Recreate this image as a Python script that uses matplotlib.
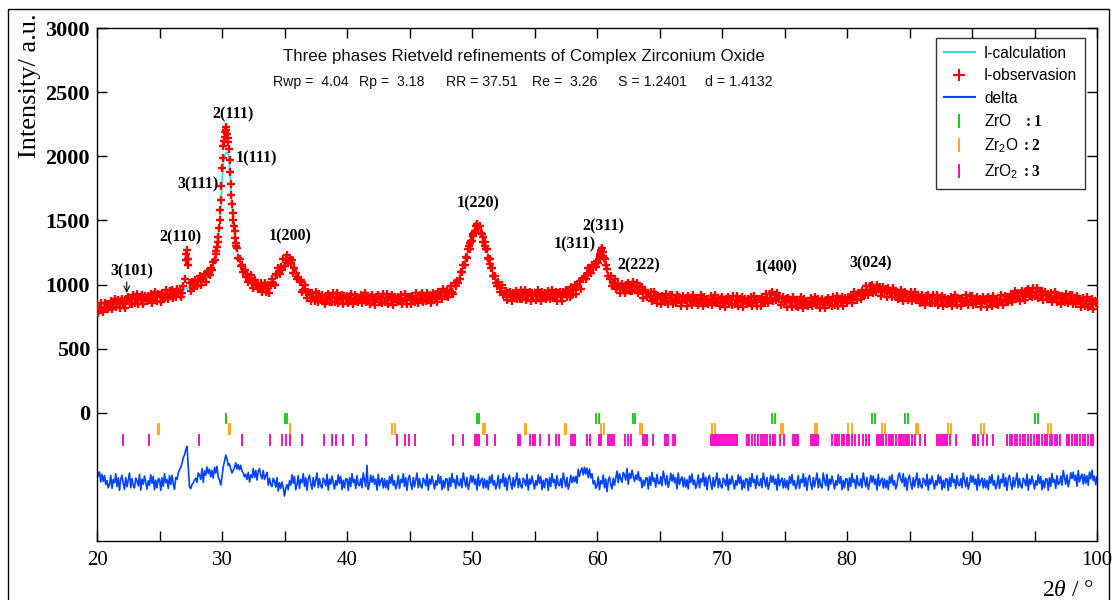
import numpy as np
import matplotlib
matplotlib.use("Agg")
import matplotlib.pyplot as plt
from matplotlib.lines import Line2D
from matplotlib.patches import Rectangle

plt.rcParams['font.family'] = ['Liberation Sans', 'DejaVu Sans']
plt.rcParams['mathtext.fontset'] = 'custom'
plt.rcParams['mathtext.rm'] = 'Liberation Sans'
plt.rcParams['mathtext.bf'] = 'Liberation Serif:bold'
plt.rcParams['mathtext.it'] = 'Liberation Serif:italic'

# ---------------- data ----------------
two_theta_start = 20.0
two_theta_step = 0.1

obs_intensity = [
    830, 777, 820, 857, 805, 782, 855, 822, 845, 807,
    825, 872, 810, 852, 890, 827, 845, 877, 815, 872,
    890, 847, 819, 886, 868, 905, 847, 884, 846, 918,
    855, 891, 923, 849, 901, 882, 919, 845, 912, 893,
    870, 911, 892, 928, 859, 885, 941, 907, 868, 924,
    920, 866, 933, 904, 891, 957, 924, 885, 952, 908,
    960, 893, 936, 904, 967, 935, 960, 900, 935, 985,
    1040, 1190, 1268, 1150, 1010, 950, 1020, 975, 1035, 985,
    985, 1027, 1064, 996, 1053, 1040, 1085, 1020, 1095, 1085,
    1075, 1130, 1110, 1175, 1190, 1235, 1290, 1372, 1505, 1661,
    1911, 2080, 2150, 2230, 2170, 2110, 1973, 1780, 1625, 1505,
    1420, 1326, 1285, 1210, 1200, 1145, 1150, 1095, 1110, 1060,
    1085, 1020, 1050, 1075, 1010, 975, 1038, 995, 1010, 965,
    970, 1012, 944, 980, 1012, 945, 962, 995, 935, 1000,
    1040, 1012, 998, 1080, 1077, 1128, 1085, 1135, 1110, 1195,
    1145, 1190, 1230, 1165, 1205, 1170, 1190, 1090, 1130, 1090,
    1040, 1060, 1020, 1035, 945, 955, 995, 945, 895, 942,
    930, 870, 930, 895, 875, 938, 901, 860, 925, 880,
    920, 875, 845, 910, 890, 925, 865, 900, 860, 930,
    865, 900, 930, 855, 905, 885, 920, 845, 910, 890,
    908, 853, 893, 928, 873, 848, 918, 883, 903, 863,
    877, 922, 857, 897, 932, 867, 882, 912, 847, 902,
    915, 870, 840, 905, 885, 920, 860, 895, 855, 925,
    860, 895, 925, 850, 900, 880, 915, 840, 905, 885,
    860, 900, 880, 915, 845, 870, 925, 890, 850, 905,
    902, 847, 912, 882, 867, 932, 897, 857, 922, 877,
    930, 861, 903, 869, 931, 897, 919, 855, 887, 933,
    905, 928, 866, 944, 912, 935, 888, 966, 939, 907,
    955, 905, 950, 990, 940, 925, 1010, 990, 1030, 1010,
    1045, 1100, 1095, 1155, 1150, 1215, 1210, 1280, 1275, 1340,
    1340, 1395, 1420, 1455, 1470, 1440, 1460, 1400, 1395, 1335,
    1330, 1280, 1275, 1205, 1195, 1130, 1125, 1065, 1070, 1010,
    990, 1020, 940, 970, 995, 920, 927, 951, 881, 933,
    945, 900, 870, 935, 915, 950, 890, 925, 885, 955,
    890, 925, 955, 880, 930, 910, 945, 870, 935, 915,
    935, 880, 920, 955, 900, 875, 945, 910, 930, 890,
    905, 950, 885, 925, 960, 895, 910, 940, 875, 930,
    945, 902, 874, 941, 923, 960, 903, 941, 904, 977,
    915, 958, 996, 929, 987, 977, 1025, 965, 1045, 1040,
    1065, 1040, 1085, 1125, 1100, 1090, 1150, 1135, 1160, 1140,
    1180, 1170, 1225, 1250, 1285, 1220, 1195, 1150, 1120, 1070,
    1040, 1065, 985, 1015, 1040, 968, 977, 1003, 936, 990,
    1005, 960, 930, 995, 975, 1010, 951, 987, 948, 1018,
    955, 985, 1010, 930, 975, 950, 978, 895, 955, 930,
    900, 935, 910, 942, 870, 890, 940, 902, 858, 910,
    903, 847, 911, 880, 864, 928, 892, 851, 915, 870,
    920, 850, 890, 855, 915, 880, 900, 835, 865, 910,
    878, 898, 833, 908, 873, 893, 843, 918, 888, 853,
    895, 840, 880, 915, 860, 835, 905, 870, 890, 850,
    862, 907, 842, 882, 917, 852, 867, 897, 832, 887,
    900, 855, 825, 890, 870, 905, 845, 880, 840, 910,
    845, 880, 910, 835, 885, 865, 900, 825, 890, 870,
    845, 885, 865, 900, 830, 855, 910, 875, 835, 890,
    887, 833, 899, 871, 858, 925, 894, 858, 927, 887,
    940, 875, 915, 880, 935, 895, 910, 840, 865, 906,
    872, 890, 823, 896, 860, 879, 828, 902, 871, 835,
    880, 825, 865, 900, 845, 820, 890, 855, 875, 835,
    850, 895, 830, 870, 905, 840, 855, 885, 820, 875,
    890, 845, 815, 880, 862, 897, 838, 874, 835, 905,
    841, 877, 908, 834, 885, 867, 903, 829, 896, 877,
    855, 899, 883, 922, 856, 885, 944, 913, 877, 936,
    935, 884, 953, 927, 916, 985, 954, 918, 987, 946,
    1000, 932, 974, 940, 1000, 962, 980, 912, 939, 982,
    950, 967, 900, 972, 935, 952, 900, 972, 940, 902,
    945, 888, 926, 959, 902, 875, 943, 906, 924, 882,
    895, 938, 872, 910, 944, 877, 891, 919, 853, 906,
    920, 874, 843, 907, 886, 920, 859, 893, 852, 921,
    855, 890, 919, 844, 893, 873, 907, 832, 896, 876,
    850, 890, 870, 905, 835, 860, 915, 880, 840, 895,
    887, 832, 897, 867, 852, 917, 882, 842, 907, 862,
    910, 840, 880, 845, 905, 870, 890, 825, 855, 900,
    870, 890, 825, 900, 865, 885, 835, 910, 880, 845,
    890, 837, 879, 916, 863, 840, 912, 879, 901, 863,
    880, 928, 866, 909, 947, 885, 903, 936, 874, 932,
    950, 907, 879, 946, 928, 965, 907, 943, 904, 975,
    910, 943, 971, 894, 942, 920, 953, 876, 938, 915,
    887, 925, 903, 936, 864, 887, 940, 903, 861, 914,
    907, 850, 913, 881, 865, 929, 893, 852, 916, 870,
    920, 848, 886, 849, 907, 870, 888, 821, 849, 892,
    836, 870, 899, 823, 872, 851, 885, 810, 875, 855,
    860,
]

# extra observed points measured between the main steps on steep peak flanks
obs_extra_2theta = [27.15, 27.25, 29.55, 29.65, 29.75, 29.85, 29.95, 30.05, 30.15,
                    30.25, 30.35, 30.45, 30.55, 30.65, 30.75, 30.85, 30.95, 31.05,
                    31.15, 49.75, 49.85, 50.05, 50.15, 50.85, 51.05, 51.15, 51.35,
                    51.45, 60.15, 60.25, 60.35, 60.45, 60.55]
obs_extra_intensity = [1240, 1200, 1262, 1330, 1440, 1580, 1770, 1985, 2120,
                       2190, 2205, 2140, 2060, 1880, 1700, 1560, 1455, 1365,
                       1300, 1300, 1325, 1380, 1400, 1370, 1300, 1280, 1200,
                       1160, 1200, 1240, 1270, 1250, 1205]

calc_2theta = [20, 21, 22, 23, 24, 25, 26, 27, 28, 28.5, 29, 29.3, 29.5, 29.6, 29.7,
               29.8, 29.9, 30.0, 30.1, 30.2, 30.3, 30.4, 30.5, 30.6, 30.7, 30.8,
               30.9, 31.0, 31.1, 31.2, 31.4, 31.6, 31.8, 32.0, 32.5, 33.0, 33.4,
               33.8, 34.2, 34.6, 35.0, 35.3, 35.6, 36.0, 36.4, 36.8, 37.2, 37.6,
               38, 40, 42, 44, 46, 47, 48, 48.5, 49, 49.5, 50, 50.3, 50.5, 50.7,
               51, 51.3, 51.6, 52, 52.5, 53, 55, 57, 58, 58.5, 59, 59.5, 60, 60.3,
               60.4, 60.6, 60.8, 61.2, 61.6, 62, 63, 63.5, 64, 65, 67, 70, 72,
               73.5, 74.2, 75, 76, 78, 80, 81, 82, 82.5, 83, 84, 85, 86, 88, 90,
               92, 93.5, 95, 96, 98, 100]
calc_intensity = [812, 838, 862, 882, 898, 908, 920, 960, 1010, 1040, 1090, 1160, 1220,
                  1280, 1360, 1460, 1590, 1800, 1940, 2000, 2025, 2030, 2015, 1930,
                  1760, 1620, 1500, 1410, 1330, 1270, 1195, 1135, 1095, 1065, 1015,
                  980, 967, 985, 1043, 1110, 1170, 1195, 1160, 1065, 985, 940, 915,
                  897, 890, 888, 885, 885, 890, 905, 935, 965, 1060, 1195, 1350, 1430,
                  1450, 1415, 1320, 1225, 1115, 1000, 940, 915, 912, 915, 940, 982,
                  1050, 1120, 1170, 1205, 1215, 1170, 1110, 1005, 980, 975, 980, 955,
                  925, 888, 878, 870, 870, 880, 905, 872, 860, 860, 880, 920, 960,
                  965, 950, 925, 905, 890, 875, 870, 870, 900, 932, 912, 880, 860]

delta_intensity = [
    -438, -495, -462, -540, -480, -535, -490, -560, -528, -585,   # 20
    -560, -490, -590, -520, -545, -475, -575, -507, -605, -517,   # 21
    -487, -553, -597, -505, -577, -525, -470, -585, -513, -570,   # 22
    -587, -510, -530, -570, -480, -603, -517, -557, -493, -543,   # 23
    -595, -530, -565, -483, -550, -497, -600, -527, -585, -515,   # 24
    -517, -605, -507, -575, -475, -545, -520, -590, -490, -560,   # 25
    -487, -553, -597, -505, -520, -470, -445, -425, -395, -350,   # 26
    -330, -290, -262, -420, -578, -592, -560, -548, -525, -510,   # 27
    -542, -470, -485, -520, -435, -543, -452, -487, -423, -473,   # 28
    -440, -500, -450, -510, -425, -470, -418, -505, -520, -565,   # 29
    -500, -420, -380, -330, -360, -410, -400, -440, -470, -450,   # 30
    -425, -390, -440, -405, -445, -410, -455, -470, -500, -480,   # 31
    -520, -465, -540, -485, -505, -435, -505, -450, -525, -455,   # 32
    -435, -488, -515, -450, -520, -490, -465, -565, -510, -560,   # 33
    -575, -510, -535, -580, -505, -610, -545, -590, -540, -585,   # 34
    -650, -590, -560, -600, -530, -565, -483, -550, -497, -600,   # 35
    -560, -490, -590, -520, -545, -475, -575, -507, -605, -517,   # 36
    -487, -553, -597, -505, -577, -525, -470, -585, -513, -570,   # 37
    -587, -510, -530, -570, -480, -603, -517, -557, -493, -543,   # 38
    -595, -530, -565, -483, -550, -497, -600, -527, -585, -515,   # 39
    -517, -605, -507, -575, -475, -545, -520, -590, -490, -560,   # 40
    -570, -513, -585, -470, -525, -577, -410, -597, -553, -487,   # 41
    -543, -493, -557, -517, -603, -480, -570, -530, -510, -587,   # 42
    -515, -585, -527, -600, -497, -550, -483, -565, -530, -595,   # 43
    -560, -490, -590, -520, -545, -475, -575, -507, -605, -517,   # 44
    -487, -553, -597, -505, -577, -525, -470, -585, -513, -570,   # 45
    -587, -510, -530, -570, -480, -603, -517, -557, -493, -543,   # 46
    -595, -530, -565, -483, -550, -497, -600, -527, -585, -515,   # 47
    -517, -605, -507, -575, -475, -545, -520, -590, -490, -560,   # 48
    -570, -513, -585, -470, -525, -577, -505, -597, -553, -487,   # 49
    -543, -493, -557, -517, -603, -480, -570, -530, -510, -587,   # 50
    -515, -585, -527, -600, -497, -550, -483, -565, -530, -595,   # 51
    -560, -490, -590, -520, -545, -475, -575, -507, -605, -517,   # 52
    -487, -553, -597, -505, -577, -525, -470, -585, -513, -570,   # 53
    -587, -510, -530, -570, -480, -603, -517, -557, -493, -543,   # 54
    -595, -530, -565, -483, -550, -497, -600, -527, -585, -515,   # 55
    -517, -605, -507, -575, -475, -545, -520, -590, -490, -560,   # 56
    -570, -513, -585, -470, -525, -577, -505, -597, -553, -487,   # 57
    -545, -500, -540, -495, -550, -440, -495, -455, -430, -485,   # 58
    -425, -478, -432, -505, -440, -508, -475, -555, -530, -590,   # 59
    -570, -500, -600, -530, -555, -485, -585, -517, -615, -527,   # 60
    -500, -560, -595, -510, -565, -510, -455, -545, -475, -515,   # 61
    -542, -465, -485, -525, -435, -558, -472, -512, -448, -498,   # 62
    -535, -485, -520, -460, -530, -505, -585, -525, -570, -510,   # 63
    -507, -595, -497, -565, -465, -535, -510, -580, -480, -550,   # 64
    -555, -498, -570, -455, -510, -562, -490, -582, -538, -472,   # 65
    -533, -483, -547, -507, -593, -470, -560, -520, -500, -577,   # 66
    -510, -580, -522, -595, -492, -545, -478, -560, -525, -590,   # 67
    -555, -485, -585, -515, -540, -470, -570, -502, -600, -512,   # 68
    -487, -553, -597, -505, -577, -525, -470, -585, -513, -570,   # 69
    -587, -510, -530, -570, -480, -603, -517, -557, -493, -543,   # 70
    -595, -530, -565, -483, -550, -497, -600, -527, -585, -515,   # 71
    -517, -605, -507, -575, -475, -545, -520, -590, -490, -560,   # 72
    -570, -513, -585, -470, -525, -577, -505, -597, -553, -487,   # 73
    -543, -493, -557, -517, -603, -480, -570, -530, -510, -587,   # 74
    -515, -585, -527, -600, -497, -550, -483, -565, -530, -595,   # 75
    -560, -490, -590, -520, -545, -475, -575, -507, -605, -517,   # 76
    -487, -553, -597, -505, -577, -525, -470, -585, -513, -570,   # 77
    -587, -470, -530, -570, -480, -603, -517, -557, -493, -543,   # 78
    -595, -530, -565, -483, -550, -497, -600, -527, -585, -515,   # 79
    -517, -605, -507, -575, -475, -545, -520, -590, -490, -560,   # 80
    -570, -513, -585, -470, -525, -577, -505, -597, -553, -487,   # 81
    -543, -493, -557, -517, -603, -480, -570, -530, -510, -587,   # 82
    -515, -585, -527, -600, -497, -550, -483, -565, -530, -595,   # 83
    -560, -490, -470, -520, -545, -475, -575, -507, -605, -517,   # 84
    -487, -553, -597, -505, -577, -525, -470, -585, -513, -570,   # 85
    -587, -510, -530, -570, -480, -603, -517, -557, -493, -543,   # 86
    -595, -530, -565, -483, -550, -497, -600, -527, -585, -515,   # 87
    -517, -605, -507, -575, -475, -545, -520, -590, -490, -560,   # 88
    -570, -513, -585, -470, -525, -577, -505, -597, -553, -487,   # 89
    -543, -493, -557, -517, -603, -480, -570, -530, -510, -587,   # 90
    -515, -585, -527, -600, -497, -550, -483, -565, -530, -595,   # 91
    -560, -490, -590, -520, -545, -475, -575, -507, -605, -517,   # 92
    -487, -553, -597, -505, -577, -525, -470, -585, -513, -570,   # 93
    -587, -510, -530, -570, -480, -603, -517, -557, -493, -543,   # 94
    -595, -530, -565, -483, -550, -497, -600, -527, -585, -515,   # 95
    -517, -605, -507, -575, -475, -545, -520, -590, -490, -560,   # 96
    -550, -493, -565, -450, -505, -557, -485, -577, -533, -467,   # 97
    -513, -463, -527, -487, -573, -450, -540, -500, -480, -557,   # 98
    -480, -550, -492, -565, -462, -515, -448, -530, -495, -560,   # 99
    -500,
]

zro_positions = [30.32, 35.05, 35.2, 50.37, 50.58, 59.92, 60.13, 62.85, 63.06,
                 74.0, 74.26, 82.0, 82.26, 84.6, 84.87, 95.0, 95.28]
zr2o_positions = [24.85, 24.95, 30.55, 30.62, 35.4, 35.48, 43.6, 43.8, 50.9, 51.0,
                  54.2, 54.28, 57.4, 57.48, 60.35, 60.56, 63.4, 63.6, 69.2, 69.4,
                  74.7, 74.9, 77.4, 77.6, 80.1, 80.4, 82.8, 83.0, 85.5, 85.7,
                  88.1, 88.3, 90.74, 90.96, 96.1, 96.34]
zro2_positions = [22.05, 24.13, 28.13, 31.57, 33.84, 34.77, 35.12, 35.44, 36.4,
                  38.16, 38.8, 39.12, 39.65, 40.5, 41.52, 43.97, 44.64, 44.98,
                  45.46, 48.45, 49.25, 50.25, 50.4, 50.55, 51.17, 51.84, 53.65,
                  53.8, 54.64, 54.85, 55.04, 55.44, 56.18, 56.72, 56.98, 57.9,
                  58.05, 58.2, 59.22, 59.44, 60.13, 60.34, 60.9, 61.05, 61.2, 61.35,
                  62.27, 62.48, 62.74, 63.7, 63.85, 64.0, 64.45, 65.4, 65.55, 65.7,
                  66.05, 66.27, 69.1, 69.25, 69.4, 69.55, 69.7, 69.85, 70.0, 70.15,
                  70.3, 70.45, 70.6, 70.75, 70.9, 71.05, 71.2, 71.98, 72.18, 72.4,
                  72.66, 72.88, 73.1, 73.26, 73.46, 73.62, 73.84, 74.06, 74.26,
                  74.64, 74.96, 75.7, 75.85, 76.0, 76.1, 77.1, 77.25, 77.4, 77.55,
                  77.7, 78.8, 79.02, 79.18, 79.38, 79.6, 79.76, 79.98, 80.18, 80.4,
                  80.66, 80.94, 81.26, 81.52, 81.78, 82.38, 82.54, 82.74, 82.9,
                  83.12, 83.34, 83.5, 83.7, 83.92, 84.14, 84.34, 84.5, 84.65, 84.8,
                  84.95, 85.2, 85.44, 85.84, 86.24, 87.2, 87.35, 87.5, 87.65, 87.8,
                  88.0, 88.24, 88.72, 90.05, 90.25, 90.45, 90.9, 91.2, 91.7, 92.77,
                  93.04, 93.2, 93.42, 93.62, 93.84, 94.06, 94.26, 94.48, 94.7,
                  94.96, 95.18, 95.38, 95.6, 95.82, 96.0, 96.2, 96.4, 96.6, 96.8,
                  97.0, 97.58, 97.79, 98.0, 98.22, 98.42, 98.64, 98.86, 99.06,
                  99.28, 99.5, 99.7]

peak_labels = ["3(101)", "2(110)", "3(111)", "2(111)", "1(111)", "1(200)",
               "1(220)", "1(311)", "2(311)", "2(222)", "1(400)", "3(024)"]
peak_label_2theta = [22.78, 26.64, 28.1, 30.9, 32.77, 35.44,
                     50.5, 58.24, 60.5, 63.3, 74.32, 81.9]
peak_label_intensity = [1100, 1365, 1778, 2324, 1981, 1375,
                        1630, 1315, 1453, 1146, 1136, 1162]

stat_names = ["Rwp =  4.04", "Rp =  3.18", "RR = 37.51", "Re =  3.26",
              "S = 1.2401", "d = 1.4132"]

x_ticks = [20, 30, 40, 50, 60, 70, 80, 90, 100]
y_ticks = [0, 500, 1000, 1500, 2000, 2500, 3000]

# ---------------- plot ----------------
W, H = 1112, 600
fig = plt.figure(figsize=(W / 100, H / 100), dpi=100)


def fx(px):
    return px / W


def fy(py):
    return 1 - py / H


ax = fig.add_axes([fx(97), fy(541), fx(1097) - fx(97), fy(28) - fy(541)])

two_theta = two_theta_start + two_theta_step * np.arange(len(obs_intensity))
two_theta_d = two_theta_start + two_theta_step * np.arange(len(delta_intensity))

c_cyan = '#33E0E0'
c_red = '#FF0000'
c_blue = '#0044FF'
c_green = '#22C822'
c_orange = '#FFAA22'
c_mag = '#FF10C8'

ax.plot(calc_2theta, calc_intensity, color=c_cyan, lw=1.3, zorder=2)
ax.plot(two_theta, obs_intensity, linestyle='none', marker='+', ms=6, mew=1.7,
        color=c_red, zorder=3)
ax.plot(obs_extra_2theta, obs_extra_intensity, linestyle='none', marker='+', ms=6,
        mew=1.7, color=c_red, zorder=3)
ax.plot(two_theta_d, delta_intensity, color=c_blue, lw=1.2, zorder=2)

ax.vlines(zro_positions, -90, 0, color=c_green, lw=1.4)
ax.vlines(zr2o_positions, -175, -80, color=c_orange, lw=1.4)
ax.vlines(zro2_positions, -260, -165, color=c_mag, lw=1.4)

ax.set_xlim(20, 100)
ax.set_ylim(-1000, 3000)
ax.set_xticks(x_ticks)
ax.set_xticks(np.array(x_ticks[:-1]) + 5, minor=True)
ax.set_yticks(y_ticks)
ax.tick_params(axis='both', which='both', direction='in', top=True, right=True,
               length=7, width=1, color='black')
for lab in ax.get_xticklabels():
    lab.set_fontfamily('Liberation Serif')
    lab.set_fontsize(15)
for lab in ax.get_yticklabels():
    lab.set_fontfamily('Liberation Serif')
    lab.set_fontsize(16)
    lab.set_fontweight('bold')
ax.tick_params(axis='x', pad=7)
ax.tick_params(axis='y', pad=5)
for s in ax.spines.values():
    s.set_linewidth(1.0)
    s.set_color('black')

# peak labels
for t, x, y in zip(peak_labels, peak_label_2theta, peak_label_intensity):
    ax.text(x, y, t, ha='center', va='center', fontsize=11.5, fontweight='bold',
            family='Liberation Serif', zorder=5)
ax.annotate('', xy=(22.38, 935), xytext=(22.38, 1020),
            arrowprops=dict(arrowstyle='->', lw=0.8, color='black',
                            shrinkA=0, shrinkB=0))

# title and statistics
fig.text(fx(524), fy(56), "Three phases Rietveld refinements of Complex Zirconium Oxide",
         ha='center', va='center', fontsize=12.2, color='#111111')
stat_x = [273, 359, 446, 532, 618, 705]
for sx, s in zip(stat_x, stat_names):
    fig.text(fx(sx), fy(82), s, ha='left', va='center', fontsize=10.2, color='#111111')

# axis labels
fig.text(fx(30), fy(13), "Intensity/ a.u.", rotation=90, ha='center', va='top',
         fontsize=19, family='Liberation Serif')
fig.text(fx(1068), fy(590), r"2$\mathit{\theta}$ / °", ha='center', va='center',
         fontsize=17, family='Liberation Serif')

# legend
handles = [
    Line2D([], [], color=c_cyan, lw=1.5),
    Line2D([], [], color=c_red, linestyle='none', marker='+', ms=9, mew=1.5),
    Line2D([], [], color=c_blue, lw=1.5),
    Line2D([], [], color=c_green, linestyle='none', marker='|', ms=10, mew=1.5),
    Line2D([], [], color=c_orange, linestyle='none', marker='|', ms=10, mew=1.5),
    Line2D([], [], color=c_mag, linestyle='none', marker='|', ms=10, mew=1.5),
]
labels = ["I-calculation", "I-observasion", "delta",
          r"ZrO   $\mathbf{:1}$", r"Zr$_2$O $\mathbf{:2}$", r"ZrO$_2$ $\mathbf{:3}$"]
leg = ax.legend(handles, labels, loc='upper right', bbox_to_anchor=(0.988, 0.9805),
                borderaxespad=0, fontsize=11.2, frameon=True, fancybox=False,
                framealpha=1, edgecolor='#333333', handlelength=2.0,
                handletextpad=0.6, labelspacing=0.48, borderpad=0.5)
leg.get_frame().set_linewidth(1.0)

# outer border of the figure
fig.patches.append(Rectangle((fx(8), -0.05), fx(1109) - fx(8), fy(9) + 0.05,
                             transform=fig.transFigure, fill=False, lw=1.0,
                             edgecolor='black'))

fig.savefig('out.png', dpi=100)
